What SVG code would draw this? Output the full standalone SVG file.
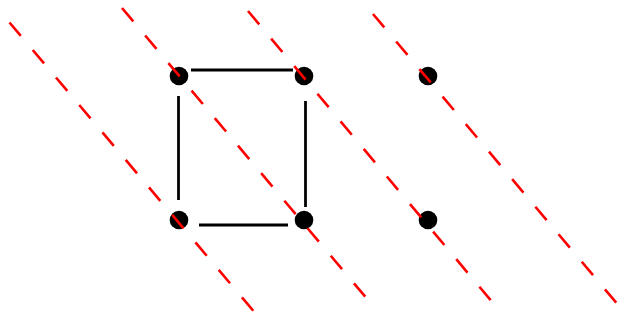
<svg xmlns="http://www.w3.org/2000/svg" width="622" height="321" viewBox="0 0 622 321">
<style>
.edge{stroke:#000;stroke-width:2.8;fill:none;stroke-linecap:butt}
.dot{fill:#000}
.cut{stroke:#ff0000;stroke-width:2.6;stroke-dasharray:17.5 18.5;fill:none}
</style>
<rect width="622" height="321" fill="#fff"/>
<g id="connectors">
<line class="edge" x1="191" y1="70" x2="293" y2="70"/>
<line class="edge" x1="305.5" y1="101" x2="305.5" y2="207"/>
<line class="edge" x1="199" y1="225" x2="288" y2="225"/>
<line class="edge" x1="178.5" y1="96" x2="178.5" y2="200"/>
</g>
<g id="n1"><circle class="dot" cx="179" cy="76" r="9.3"/></g>
<g id="n2"><circle class="dot" cx="304" cy="76" r="9.3"/></g>
<g id="n3"><circle class="dot" cx="428" cy="76" r="9.3"/></g>
<g id="n4"><circle class="dot" cx="179" cy="220" r="9.3"/></g>
<g id="n5"><circle class="dot" cx="304" cy="220" r="9.3"/></g>
<g id="n6"><circle class="dot" cx="428" cy="220" r="9.3"/></g>
<g id="cuts">
<line class="cut" x1="9.5" y1="22.5" x2="256" y2="314"/>
<line class="cut" x1="122" y1="8" x2="368" y2="300"/>
<line class="cut" x1="248" y1="11" x2="493" y2="303"/>
<line class="cut" x1="373" y1="14" x2="619" y2="306"/>
</g>
</svg>
